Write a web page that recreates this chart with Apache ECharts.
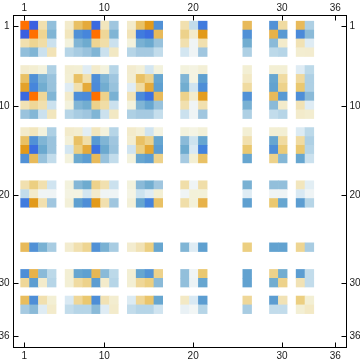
<!DOCTYPE html>
<html><head><meta charset="utf-8">
<style>html,body{margin:0;padding:0;background:#fff}#c{width:360px;height:363px}</style>
<script src="https://cdn.jsdelivr.net/npm/echarts@6/dist/echarts.min.js"></script>
</head><body><div id="c"></div>
<script>
const tickLabels = [1, 10, 20, 30, 36];
const indices = [1,2,3,4, 6,7,8,9,10,11, 13,14,15,16, 19,20,21, 26, 29,30, 32,33];
const row1  = [1,-1,.3,-.35, .2,.55,.7,-.95,.25,-.3, .2,.55,.8,-.7, .3,-.18,-.85, .6, -.7,.35, .6,-.25];
const row2  = [-1,1,.4,-.42, .25,-.7,-.78,1,.38,-.42, .27,-.85,-.92,.6, .42,.2,.8, -.7, .65,-.65, -.75,-.38];
const row3  = [.3,.4,.33,-.15, .1,-.42,-.5,.4,.32,-.15, .1,-.45,-.52,-.33, .3,-.03,.3, -.48, -.38,.2, .28,-.08];
const row4  = [-.35,-.42,-.15,.27, -.22,-.27,-.32,-.42,-.15,.23, -.22,-.28,-.28,-.18, -.12,-.03,-.3, -.25, -.2,-.22, .17,.18];
const row6  = [.18,.16,.1,-.25, .16,.15,-.08,.2,.1,-.22, .18,.13,-.12,.1, .1,.08,.14, .15, .15,.15, -.08,-.2];
const row7  = [.55,-.7,-.42,-.32, .15,.55,.3,-.72,-.42,-.3, .17,.55,.42,-.55, -.42,.08,-.6, .22, -.55,.35, .36,-.25];
const row8  = [.75,-.78,-.48,-.33, -.08,.3,.7,-.75,-.48,-.33, -.08,.35,.7,-.6, -.48,-.13,-.72, .35, -.58,.42, .5,-.25];
const row9  = [-.95,1,.38,-.42, .2,-.72,-.75,1,.42,-.45, .27,-.75,-.9,.6, .42,.2,.78, -.7, .6,-.65, -.72,-.38];
const row10 = [.28,.38,.3,-.15, .1,-.42,-.48,.42,.33,-.15, .1,-.42,-.55,-.33, .3,-.03,.3, -.45, -.38,.2, .28,-.08];
const row11 = [-.32,-.4,-.15,.25, -.22,-.27,-.3,-.42,-.15,.23, -.25,-.28,-.28,-.17, -.15,-.03,-.3, -.25, -.18,-.22, .2,.17];
const row13 = [.2,.25,.1,-.25, .2,.17,-.07,.25,.1,-.22, .2,.14,-.13,.08, .1,.07,.13, .15, .15,.15, -.09,-.2];
const row14 = [.55,-.7,-.42,-.32, .13,.55,.32,-.65,-.42,-.3, .17,.55,.42,-.55, -.38,-.14,-.55, .3, -.55,.35, .35,-.25];
const row15 = [.8,-.92,-.52,-.32, -.12,.45,.7,-.9,-.52,-.32, -.13,.45,.72,-.62, -.5,-.1,-.8, .5, -.72,.48, .5,-.22];
const row16 = [-.7,.6,-.33,-.18, .1,-.52,-.62,.6,-.33,-.18, .1,-.55,-.62,.42, -.28,.15,.55, -.55, .42,-.4, -.55,-.15];
const row19 = [.3,.45,.3,-.13, .1,-.4,-.5,.42,.3,-.15, .1,-.38,-.48,-.3, .32,-.03,.32, -.45, -.35,-.35, .25,-.07];
const row20 = [-.18,.2,-.03,-.03, .08,.08,-.12,.2,-.03,-.03, .07,-.14,-.08,.15, -.03,.12,.12, -.08, -.03,-.03, -.1,-.03];
const row21 = [-.85,.8,.3,-.3, .13,-.6,-.72,.8,.3,-.3, .13,-.55,-.8,.55, .32,.12,.65, -.6, .5,-.55, -.62,-.22];
const row26 = [.6,-.7,-.45,-.27, .18,.3,.4,-.7,-.45,-.27, .18,.28,.45,-.55, -.42,-.08,-.6, .45, -.58,-.58, .4,-.27];
const row29 = [-.72,.65,-.38,-.2, .15,-.55,-.6,.62,-.38,-.2, .15,-.55,-.68,.42, -.35,-.03,.5, -.58, .42,-.48, -.62,-.18];
const row30 = [.38,-.62,.2,-.22, .15,.35,.42,-.62,.2,-.22, .15,.38,.45,-.38, -.35,-.04,-.55, -.58, -.48,.42, .28,-.18];
const row32 = [.58,-.72,.3,.15, -.1,.38,.5,-.72,.28,.17, -.09,.38,.52,-.55, .22,-.1,-.62, .38, -.62,.28, .45,.15];
const row33 = [-.28,-.38,-.08,.2, -.18,-.22,-.22,-.38,-.08,.2, -.18,-.22,-.22,-.13, -.05,-.02,-.22, -.27, -.18,-.18, .15,.22];
const rows = [row1,row2,row3,row4,row6,row7,row8,row9,row10,row11,row13,row14,row15,row16,row19,row20,row21,row26,row29,row30,row32,row33];

const ramp = ['#3A5FE0','#3C72E0','#4483DC','#5191D6','#5FA0D0','#6EABCF','#84B7D6','#A0C6DF','#BCD9E9','#D9E9F3','#F8F9F6',
              '#F3F2DD','#F3EBCB','#F1E0AF','#EED592','#EAC870','#E8BA5A','#E5AA3A','#E29A1A','#F0860D','#FF7000'];
const categories = Array.from({length:36},(_,i)=>String(i+1));
const data = [];
rows.forEach((r,i)=>r.forEach((v,j)=>data.push([indices[j]-1, indices[i]-1, v])));

const frameAxis = (extra, margin) => Object.assign({
  type:'value', gridIndex:1, splitLine:{show:false},
  axisLine:{show:true,onZero:false,lineStyle:{color:'#000',width:1}},
  axisTick:{show:true,inside:true,length:5,customValues:tickLabels,lineStyle:{color:'#000',width:1}},
  axisLabel:{show:true,customValues:tickLabels,color:'#1a1a1a',fontFamily:'"Liberation Sans"',fontSize:10,margin:margin,hideOverlap:false,showMinLabel:true,showMaxLabel:true}
}, extra);

const chart = echarts.init(document.getElementById('c'),null,{renderer:'canvas'});
chart.setOption({
  animation:false,
  backgroundColor:'#fff',
  grid:[
    {left:20.6,top:21.1,width:319.9,height:319.2,outerBoundsMode:'none'},
    {left:13.5,top:15.5,width:333,height:332,outerBoundsMode:'none'}
  ],
  xAxis:[
    {type:'category',gridIndex:0,data:categories,show:false},
    frameAxis({position:'bottom',min:-0.215,max:37.26},4),
    frameAxis({position:'top',min:-0.215,max:37.26},2.5)
  ],
  yAxis:[
    {type:'category',gridIndex:0,data:categories,show:false,inverse:true},
    frameAxis({position:'left',inverse:true,min:-0.218,max:37.22},4),
    frameAxis({position:'right',inverse:true,min:-0.218,max:37.22},3)
  ],
  visualMap:{show:false,type:'continuous',min:-1,max:1,dimension:2,seriesIndex:0,inRange:{color:ramp}},
  series:[{type:'heatmap',xAxisIndex:0,yAxisIndex:0,data:data,progressive:0,itemStyle:{borderWidth:0},emphasis:{disabled:true}}]
});
</script></body></html>
